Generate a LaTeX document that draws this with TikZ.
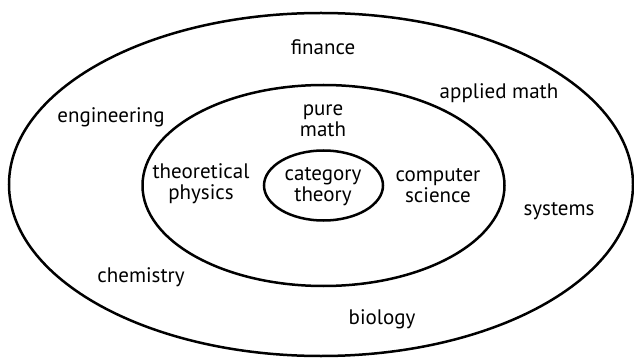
\documentclass[tikz,border=0pt]{standalone}
\usepackage{fontspec}
\setmainfont{PT Sans}
\begin{document}
\begin{tikzpicture}[x=1pt,y=-1pt,
  ring/.style={draw=black,line width=2.5pt},
  field/.style={font=\fontsize{21}{21}\selectfont,align=center,inner sep=0pt}]
\useasboundingbox (0,0) rectangle (634,358);
% nested regions
\draw[ring] (321,184.5) ellipse [x radius=312,y radius=171.5];
\draw[ring] (323.5,185.5) ellipse [x radius=181,y radius=100.5];
\draw[ring] (323.5,185.5) ellipse [x radius=59.5,y radius=35];
% labels
\node[field] (ct) at (323,187) {category\\theory};
\node[field] (pm) at (323,121) {pure\\math};
\node[field] (tp) at (201,184) {theoretical\\physics};
\node[field] (cs) at (438,186) {computer\\science};
\node[field] (fi) at (323,47) {finance};
\node[field] (am) at (499,93) {applied math};
\node[field] (en) at (111,117) {engineering};
\node[field] (sy) at (559,211) {systems};
\node[field] (ch) at (141,277) {chemistry};
\node[field] (bi) at (382,319) {biology};
\end{tikzpicture}
\end{document}
